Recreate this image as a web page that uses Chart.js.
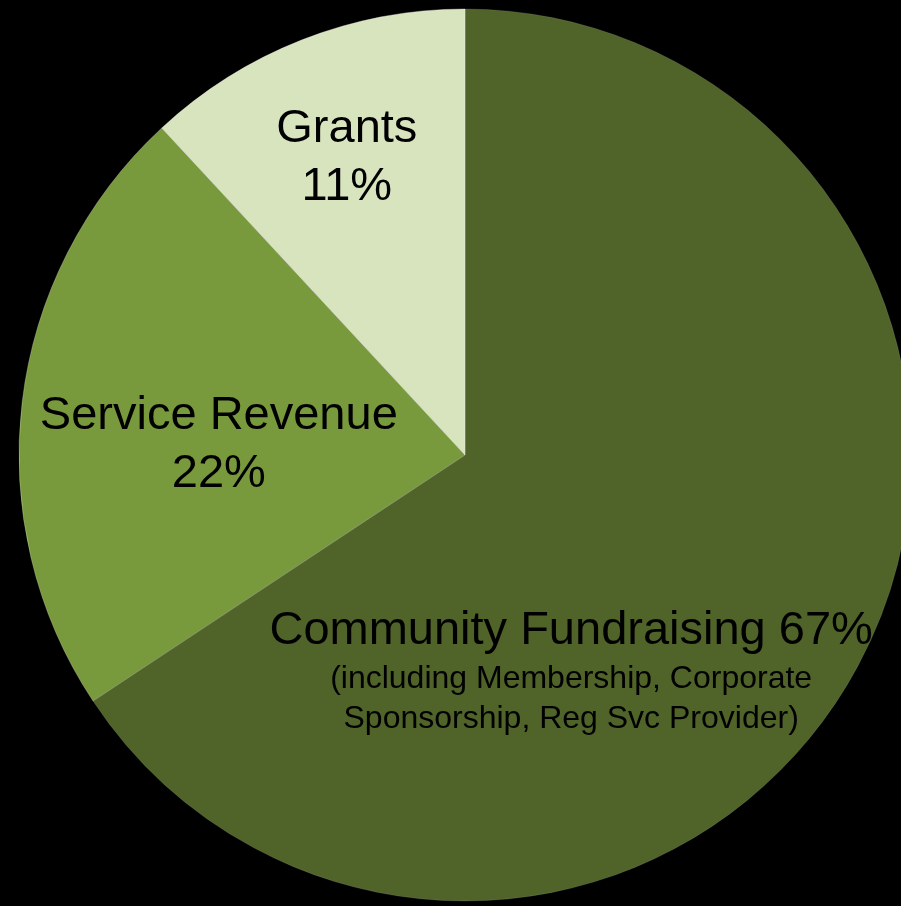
<!DOCTYPE html>
<html>
<head>
<meta charset="utf-8">
<script src="https://cdn.jsdelivr.net/npm/chart.js@4.4.1/dist/chart.umd.min.js"></script>
<style>
    html, body { margin: 0; padding: 0; background: #000; overflow: hidden; }
    #wrap { position: absolute; left: 0; top: 0; width: 930px; height: 910px; }
</style>
</head>
<body>
<div id="wrap"><canvas id="revenueChart" width="930" height="910"></canvas></div>
<script>
// slice order goes clockwise from 12 o'clock
const categories = ['Community Fundraising', 'Service Revenue', 'Grants'];
const shares = [65.7, 22.4, 11.9];
const shareLabels = ['67%', '22%', '11%'];
const sliceColors = ['#506329', '#789A3C', '#D8E4BE'];
const footnote = ['(including Membership, Corporate', 'Sponsorship, Reg Svc Provider)'];

document.addEventListener('DOMContentLoaded', function () {
    const ctx = document.getElementById('revenueChart').getContext('2d');

    // where each label sits, in units of the pie radius from its centre
    const labelSpots = [
        { dx: 0.238, dy: 0.395 },
        { dx: -0.552, dy: -0.022 },
        { dx: -0.265, dy: -0.666 }
    ];

    const sliceLabels = {
        id: 'sliceLabels',
        afterDatasetsDraw(chart) {
            const c = chart.ctx;
            const arcs = chart.getDatasetMeta(0).data;
            c.save();
            c.fillStyle = '#000';
            c.textAlign = 'center';
            c.textBaseline = 'middle';
            arcs.forEach(function (arc, i) {
                const r = arc.outerRadius;
                const x = arc.x + labelSpots[i].dx * r;
                const y = arc.y + labelSpots[i].dy * r;
                c.font = '47px "Liberation Sans", Arial, sans-serif';
                if (i === 0) {
                    c.fillText(categories[i] + ' ' + shareLabels[i], x, y);
                    c.font = '32px "Liberation Sans", Arial, sans-serif';
                    c.fillText(footnote[0], x, y + 48);
                    c.fillText(footnote[1], x, y + 88);
                } else {
                    c.fillText(categories[i], x, y - 29);
                    c.fillText(shareLabels[i], x, y + 29);
                }
            });
            c.restore();
        }
    };

    new Chart(ctx, {
        type: 'pie',
        data: {
            labels: categories,
            datasets: [{
                data: shares,
                backgroundColor: sliceColors,
                borderColor: ['rgba(255,255,255,0.12)', 'rgba(255,255,255,0.25)', 'rgba(255,255,255,0.35)'],
                borderWidth: 1
            }]
        },
        options: {
            responsive: false,
            animation: false,
            radius: 446,
            layout: { padding: 0 },
            plugins: {
                legend: { display: false },
                tooltip: { enabled: false }
            }
        },
        plugins: [sliceLabels]
    });
});
</script>
</body>
</html>
